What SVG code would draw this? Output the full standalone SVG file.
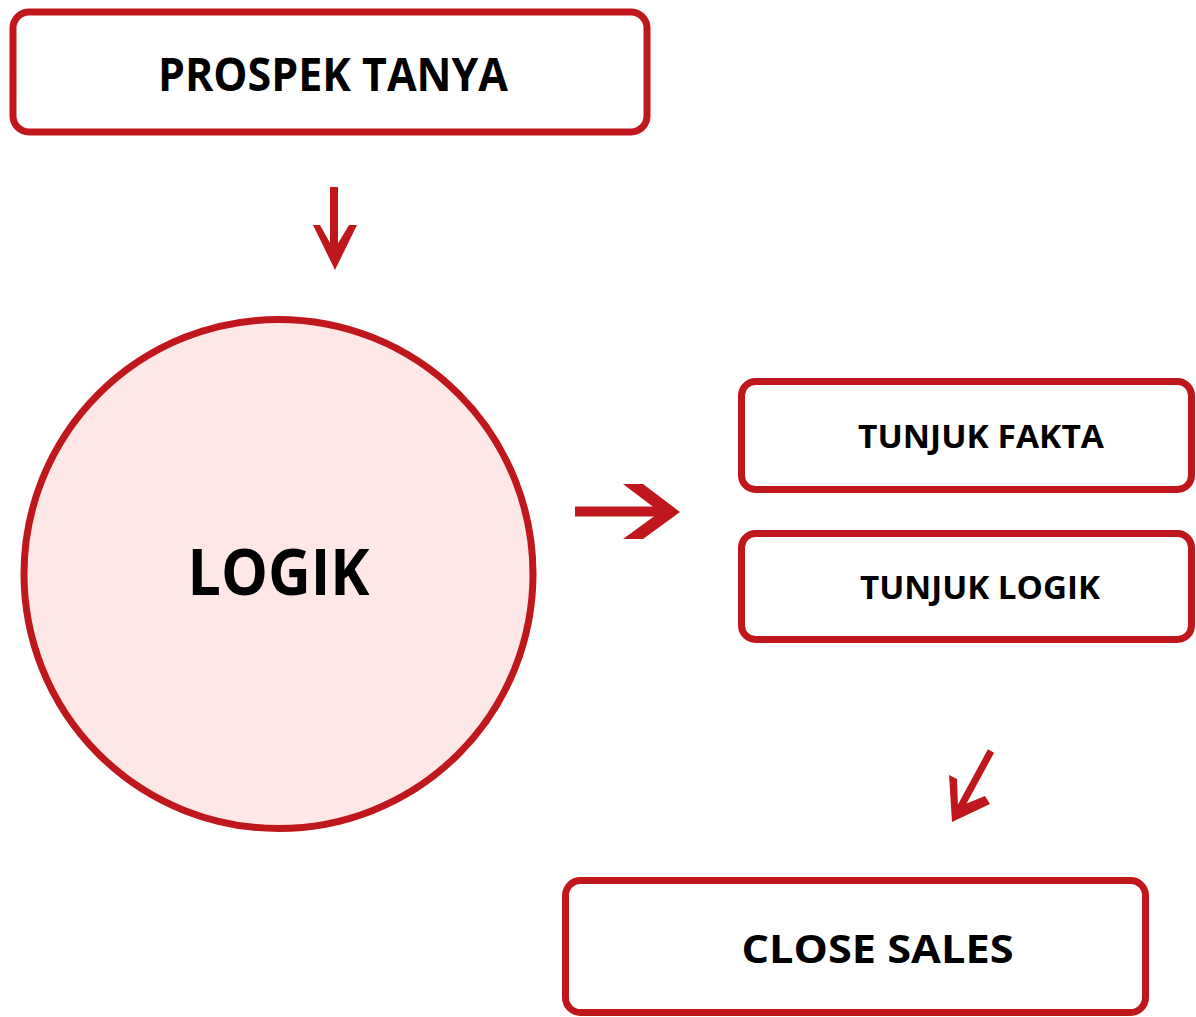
<svg xmlns="http://www.w3.org/2000/svg" width="1196" height="1017" viewBox="0 0 1196 1017">
<style>
.box{fill:#ffffff;stroke:#c0171c;stroke-width:7}
.circ{fill:#fde7e7;stroke:#c0171c;stroke-width:7}
.lbl{font-family:"Open Sans","Liberation Sans",sans-serif;font-weight:700;fill:#000;text-anchor:middle}
.conn{fill:none;stroke:#c0171c;stroke-linecap:butt}
.head{fill:#c0171c;stroke:none}
</style>
<rect width="1196" height="1017" fill="#ffffff"/>
<g id="connectors">
<path class="conn" d="M334 187 V256" style="stroke-width:8"/>
<polygon class="head" points="313,225 320,225 334,250 349,225 357,225 335,270"/>
<path class="conn" d="M575 511.5 H662" style="stroke-width:10"/>
<polygon class="head" points="623,484 643,484 680,512 643,539 623,539 660,512"/>
<path class="conn" d="M991 751 L959 810" style="stroke-width:7"/>
<polygon class="head" points="949,775 957,779 958,807 985,796 990,804 952,822"/>
</g>
<g id="node-prospek">
<rect class="box" x="13" y="12" width="634" height="120" rx="16"/>
<text class="lbl" x="333" y="91" font-size="46" textLength="350" lengthAdjust="spacingAndGlyphs">PROSPEK TANYA</text>
</g>
<g id="node-logik">
<circle class="circ" cx="278.5" cy="574" r="254.5"/>
<text class="lbl" x="278.5" y="595" font-size="65" textLength="182" lengthAdjust="spacingAndGlyphs">LOGIK</text>
</g>
<g id="node-fakta">
<rect class="box" x="741.5" y="381.5" width="450" height="108" rx="14"/>
<text class="lbl" x="981" y="448" font-size="33" textLength="246" lengthAdjust="spacingAndGlyphs">TUNJUK FAKTA</text>
</g>
<g id="node-tunjuk-logik">
<rect class="box" x="741.5" y="533.5" width="450" height="106" rx="14"/>
<text class="lbl" x="980" y="599" font-size="33" textLength="240" lengthAdjust="spacingAndGlyphs">TUNJUK LOGIK</text>
</g>
<g id="node-close">
<rect class="box" x="565.5" y="880.5" width="580" height="132" rx="15"/>
<text class="lbl" x="877.5" y="963" font-size="39" textLength="272" lengthAdjust="spacingAndGlyphs">CLOSE SALES</text>
</g>
</svg>
